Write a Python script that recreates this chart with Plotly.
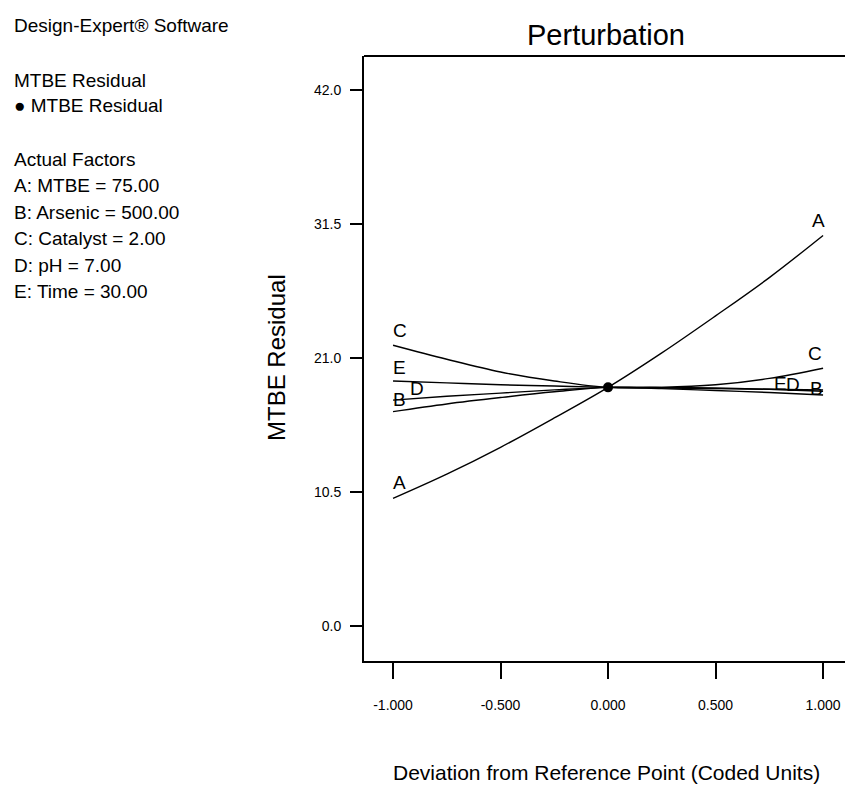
import plotly.graph_objects as go

# ---------------- data ----------------
x_dev = [-1.0, -0.75, -0.5, -0.25, 0.0, 0.25, 0.5, 0.75, 1.0]
curve_A = [10.0, 11.9, 14.0, 16.3, 18.7, 21.4, 24.3, 27.3, 30.6]
curve_B = [16.8, 17.4, 17.9, 18.35, 18.7, 18.6, 18.45, 18.3, 18.1]
curve_C = [22.0, 20.9, 19.9, 19.2, 18.7, 18.7, 18.9, 19.4, 20.2]
curve_D = [17.7, 18.0, 18.25, 18.5, 18.7, 18.7, 18.65, 18.55, 18.4]
curve_E = [19.2, 19.05, 18.9, 18.8, 18.7, 18.65, 18.6, 18.55, 18.5]
ref_x = [0.0]
ref_y = [18.7]

x_ticks = [-1.0, -0.5, 0.0, 0.5, 1.0]
x_tick_text = ["-1.000", "-0.500", "0.000", "0.500", "1.000"]
y_ticks = [0.0, 10.5, 21.0, 31.5, 42.0]
y_tick_text = ["0.0", "10.5", "21.0", "31.5", "42.0"]

info_lines = [
    "Design-Expert® Software",
    "MTBE Residual",
    "\u25CF MTBE Residual",
    "Actual Factors",
    "A: MTBE = 75.00",
    "B: Arsenic = 500.00",
    "C: Catalyst = 2.00",
    "D: pH = 7.00",
    "E: Time = 30.00",
]
info_pixel_y = [26, 80, 105, 159, 186, 212, 238, 265, 291]

# ---------------- layout constants ----------------
W, H = 845, 787
L, R, T, B = 364, 0, 56, 126
PH = H - T - B
FONT = "Liberation Sans, Arial, sans-serif"

def py(pix):
    return (H - B - pix) / PH

def px(pix):
    return (pix - L) / (W - L - R)

fig = go.Figure()
curves = {"A": curve_A, "B": curve_B, "C": curve_C, "D": curve_D, "E": curve_E}
for name, ys in curves.items():
    fig.add_trace(go.Scatter(x=x_dev, y=ys, mode="lines", name=name,
                             line=dict(color="black", width=1.4, shape="spline"),
                             showlegend=False))
fig.add_trace(go.Scatter(x=ref_x, y=ref_y, mode="markers",
                         marker=dict(color="black", size=10), showlegend=False))

annotations = []
# curve labels: (name, side index, xanchor, xshift, yshift)
label_specs = [
    ("A", 0, "left", -2, 3), ("C", 0, "left", -2, 2), ("E", 0, "left", -2, 1),
    ("D", 0, "left", 15, -1), ("B", 0, "left", -2, 0),
    ("A", -1, "right", 4, 2), ("C", -1, "right", 1, 2), ("E", -1, "right", -34, -6),
    ("D", -1, "right", -21, -6), ("B", -1, "right", 2, -6),
]
for name, idx, xa, xs, ys in label_specs:
    annotations.append(dict(x=x_dev[idx], y=curves[name][idx], xref="x", yref="y",
                            text=name, showarrow=False, xanchor=xa, yanchor="bottom",
                            xshift=xs, yshift=ys,
                            font=dict(family=FONT, size=19, color="black")))

for txt, pix in zip(info_lines, info_pixel_y):
    annotations.append(dict(x=px(12), y=py(pix), xref="paper", yref="paper",
                            text=txt, showarrow=False, xanchor="left", yanchor="middle",
                            font=dict(family=FONT, size=19, color="black")))

annotations.append(dict(x=px(606), y=py(35), xref="paper", yref="paper",
                        text="Perturbation", showarrow=False, xanchor="center", yanchor="middle",
                        font=dict(family=FONT, size=29, color="black")))
annotations.append(dict(x=px(606), y=py(772), xref="paper", yref="paper",
                        text="Deviation from Reference Point (Coded Units)", showarrow=False,
                        xanchor="center", yanchor="middle",
                        font=dict(family=FONT, size=21, color="black")))
annotations.append(dict(x=px(276), y=py(358), xref="paper", yref="paper",
                        text="MTBE Residual", showarrow=False, textangle=-90,
                        xanchor="center", yanchor="middle",
                        font=dict(family=FONT, size=24, color="black")))

fig.update_layout(
    width=W, height=H,
    margin=dict(l=L, r=R, t=T, b=B, pad=0),
    paper_bgcolor="white", plot_bgcolor="white",
    annotations=annotations,
    shapes=[dict(type="line", xref="paper", yref="paper", x0=0, x1=1, y0=1, y1=1,
                 line=dict(color="black", width=2))],
    xaxis=dict(range=[-1.135, 1.102], tickvals=x_ticks, ticktext=x_tick_text,
               ticks="outside", ticklen=16, tickwidth=2, tickcolor="black",
               showline=True, linecolor="black", linewidth=2, showgrid=False, zeroline=False,
               ticklabelstandoff=14,
               tickfont=dict(family=FONT, size=14, color="black")),
    yaxis=dict(range=[-2.74, 44.66], tickvals=y_ticks, ticktext=y_tick_text,
               ticks="outside", ticklen=12, tickwidth=2, tickcolor="black",
               showline=True, linecolor="black", linewidth=2, showgrid=False, zeroline=False,
               ticklabelstandoff=6,
               tickfont=dict(family=FONT, size=14, color="black")),
)

fig.write_html("out.html")
